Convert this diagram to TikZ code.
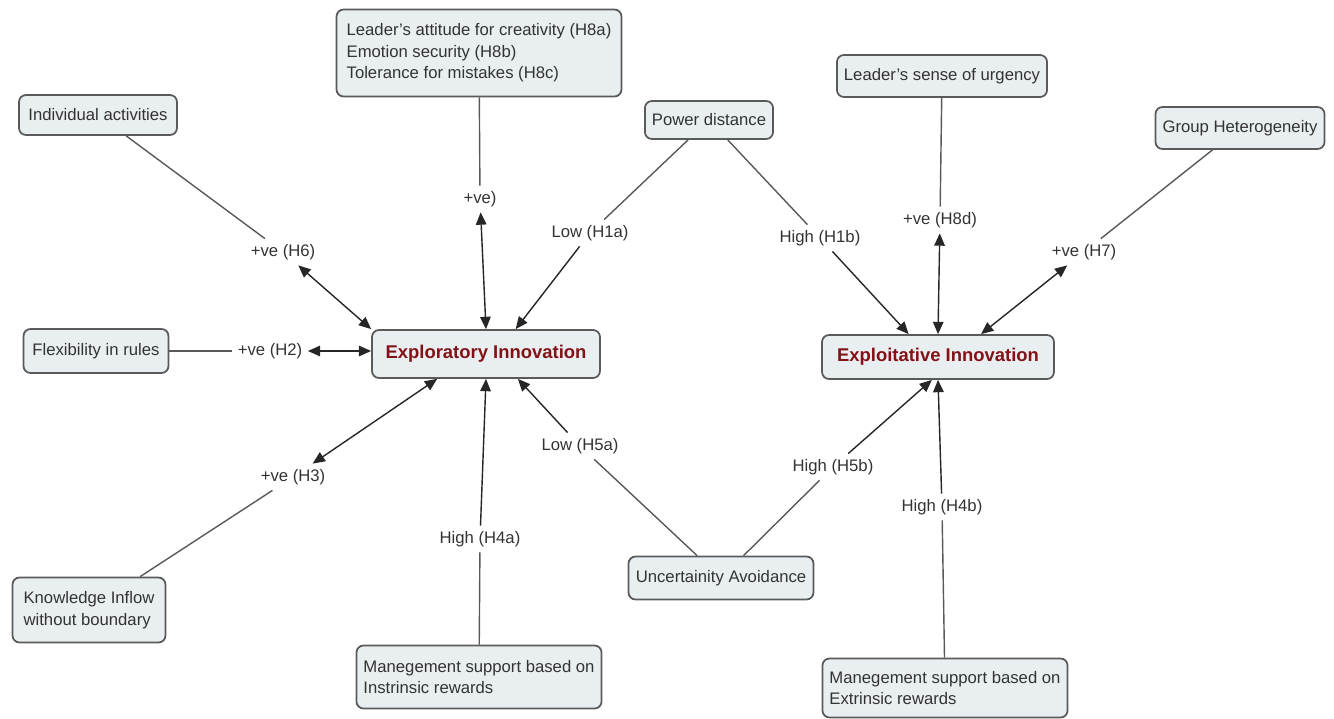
\documentclass[tikz,border=0pt]{standalone}
\usepackage{fontspec}
\setmainfont{Liberation Sans}
\usetikzlibrary{arrows.meta}
\definecolor{boxfill}{RGB}{233,238,241}
\definecolor{boxline}{RGB}{90,90,90}
\definecolor{titlered}{RGB}{130,18,22}

\begin{document}
\begin{tikzpicture}[x=0.02cm, y=-0.02cm,
  every node/.style={font=\fontsize{9.5}{12.2}\selectfont, text=black!80},
  box/.style={draw=boxline, fill=boxfill, rounded corners=4pt, line width=1pt, inner sep=4pt},
  mainbox/.style={box, font=\fontsize{10.5}{12}\selectfont\bfseries, text=titlered},
  lbl/.style={inner sep=3pt},
  lnk/.style={draw=black!65, line width=0.8pt},
  arr/.style={lnk, draw=black!85, -{Triangle[length=7pt,width=6pt]}},
  darr/.style={arr, {Triangle[length=7pt,width=6pt]}-{Triangle[length=7pt,width=6pt]}}]
\useasboundingbox (0,0) rectangle (1334,719);

% boxes
\node[mainbox, minimum width=4.56cm, minimum height=0.96cm] (explor) at (486,354) {Exploratory Innovation};
\node[mainbox, minimum width=4.64cm, minimum height=0.88cm] (exploit) at (938,357) {Exploitative Innovation};
\node[box, align=left, minimum width=5.7cm, minimum height=1.74cm] (attitude) at (479,53) {Leader's attitude for creativity (H8a)\\Emotion security (H8b)\\Tolerance for mistakes (H8c)};
\node[box, minimum width=3.16cm, minimum height=0.8cm] (indiv) at (98,115) {Individual activities};
\node[box, minimum width=2.9cm, minimum height=0.88cm] (flex) at (96,351) {Flexibility in rules};
\node[box, minimum width=2.54cm, minimum height=0.76cm] (power) at (709,120) {Power distance};
\node[box, minimum width=4.2cm, minimum height=0.84cm] (urgency) at (942,76) {Leader's sense of urgency};
\node[box, minimum width=3.32cm, minimum height=0.84cm] (group) at (1240,128) {Group Heterogeneity};
\node[box, align=left, minimum width=3.06cm, minimum height=1.3cm] (knowl) at (89,610) {Knowledge Inflow\\without boundary};
\node[box, align=left, minimum width=4.84cm, minimum height=1.26cm] (intrinsic) at (479,677) {Manegement support based on\\Instrinsic rewards};
\node[box, minimum width=3.7cm, minimum height=0.86cm] (uncert) at (721,578) {Uncertainity Avoidance};
\node[box, align=left, minimum width=4.84cm, minimum height=1.18cm] (extrinsic) at (945,688) {Manegement support based on\\Extrinsic rewards};

% labels
\node[lbl] (l6) at (283,252) {+ve (H6)};
\node[lbl] (l2) at (270,351) {+ve (H2)};
\node[lbl] (l8) at (480,199) {+ve)};
\node[lbl] (l1a) at (590,233) {Low (H1a)};
\node[lbl] (l1b) at (820,238) {High (H1b)};
\node[lbl] (l8d) at (940,220) {+ve (H8d)};
\node[lbl] (l7) at (1084,252) {+ve (H7)};
\node[lbl] (l3) at (293,477) {+ve (H3)};
\node[lbl] (l4a) at (480,539) {High (H4a)};
\node[lbl] (l5a) at (580,446) {Low (H5a)};
\node[lbl] (l5b) at (833,467) {High (H5b)};
\node[lbl] (l4b) at (942,507) {High (H4b)};

% exploratory side
\draw[lnk] (indiv) -- (l6);
\draw[darr] (l6) -- (explor.north west);
\draw[lnk] (flex) -- (l2);
\draw[darr] (l2.east) -- (l2.east -| explor.west);
\draw[lnk] (attitude) -- (l8);
\draw[darr] (l8) -- (explor.north);
\draw[lnk] (power) -- (l1a);
\draw[arr] (l1a) -- (explor.40);
\draw[lnk] (knowl) -- (l3);
\draw[darr] (l3) -- (explor.207);
\draw[lnk] (intrinsic) -- (l4a);
\draw[arr] (l4a) -- (explor.south);
\draw[lnk] (uncert) -- (l5a);
\draw[arr] (l5a) -- (explor.322);

% exploitative side
\draw[lnk] (power) -- (l1b);
\draw[arr] (l1b) -- (exploit.142);
\draw[lnk] (urgency) -- (l8d);
\draw[darr] (l8d) -- (exploit.north);
\draw[lnk] (group) -- (l7);
\draw[darr] (l7) -- (exploit.28);
\draw[lnk] (uncert) -- (l5b);
\draw[arr] (l5b) -- (exploit.255);
\draw[lnk] (extrinsic) -- (l4b);
\draw[arr] (l4b) -- (exploit.south);
\end{tikzpicture}
\end{document}
